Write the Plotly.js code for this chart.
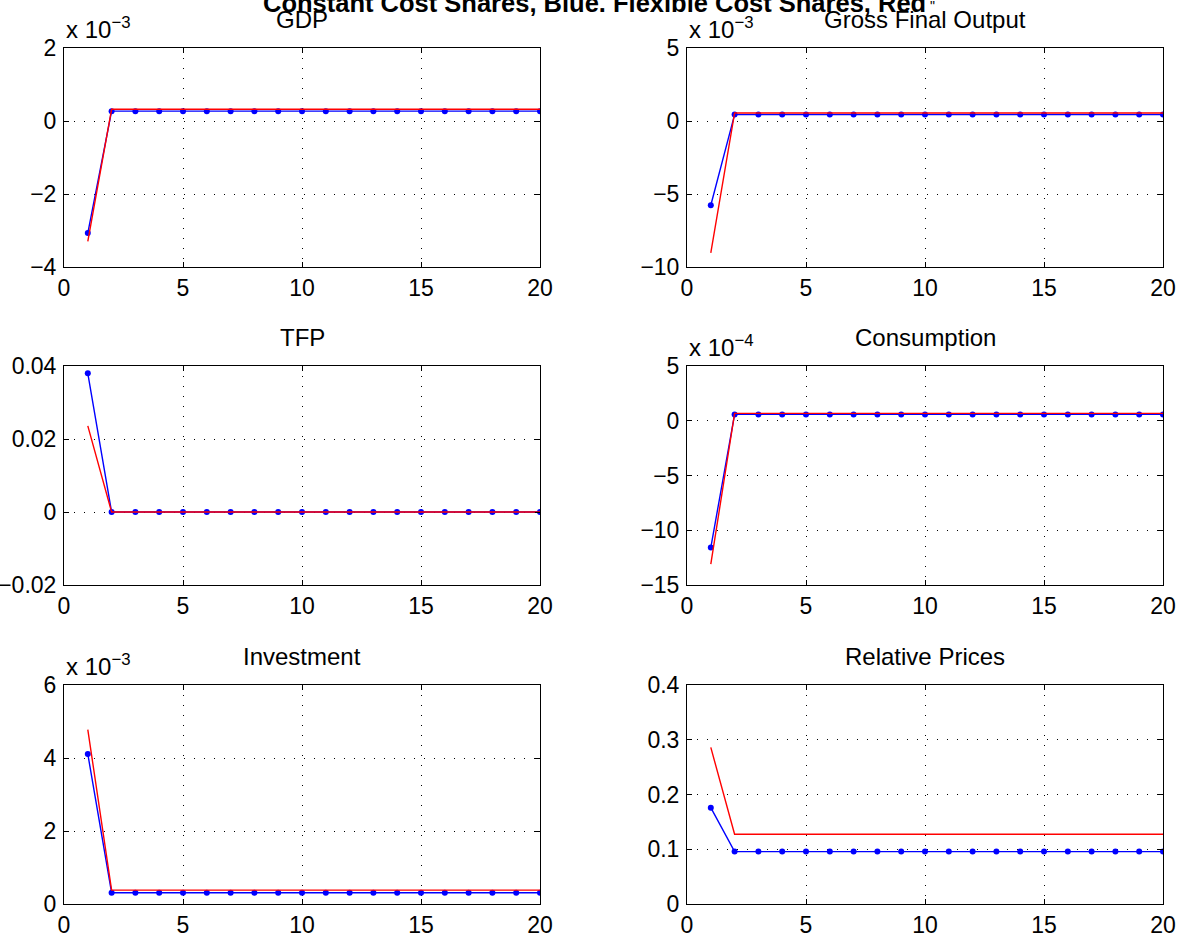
<!DOCTYPE html>
<html>
<head>
<meta charset="utf-8">
<script src="https://cdn.plot.ly/plotly-3.0.1.min.js"></script>
<style>html,body{margin:0;padding:0;background:#fff;}#chart{width:1183px;height:941px;}</style>
</head>
<body>
<div id="chart"></div>
<script>
// periods
const periods = [1,2,3,4,5,6,7,8,9,10,11,12,13,14,15,16,17,18,19,20];

// Blue: constant cost shares ; Red: flexible cost shares
const gdpBlue  = [-3.07e-3,0.27e-3,0.27e-3,0.27e-3,0.27e-3,0.27e-3,0.27e-3,0.27e-3,0.27e-3,0.27e-3,0.27e-3,0.27e-3,0.27e-3,0.27e-3,0.27e-3,0.27e-3,0.27e-3,0.27e-3,0.27e-3,0.27e-3];
const gdpRed   = [-3.30e-3,0.32e-3,0.32e-3,0.32e-3,0.32e-3,0.32e-3,0.32e-3,0.32e-3,0.32e-3,0.32e-3,0.32e-3,0.32e-3,0.32e-3,0.32e-3,0.32e-3,0.32e-3,0.32e-3,0.32e-3,0.32e-3,0.32e-3];

const gfoBlue  = [-5.77e-3,0.44e-3,0.44e-3,0.44e-3,0.44e-3,0.44e-3,0.44e-3,0.44e-3,0.44e-3,0.44e-3,0.44e-3,0.44e-3,0.44e-3,0.44e-3,0.44e-3,0.44e-3,0.44e-3,0.44e-3,0.44e-3,0.44e-3];
const gfoRed   = [-9.04e-3,0.55e-3,0.55e-3,0.55e-3,0.55e-3,0.55e-3,0.55e-3,0.55e-3,0.55e-3,0.55e-3,0.55e-3,0.55e-3,0.55e-3,0.55e-3,0.55e-3,0.55e-3,0.55e-3,0.55e-3,0.55e-3,0.55e-3];

const tfpBlue  = [0.038,0,0,0,0,0,0,0,0,0,0,0,0,0,0,0,0,0,0,0];
const tfpRed   = [0.0236,0,0,0,0,0,0,0,0,0,0,0,0,0,0,0,0,0,0,0];

const consBlue = [-11.58e-4,0.58e-4,0.58e-4,0.58e-4,0.58e-4,0.58e-4,0.58e-4,0.58e-4,0.58e-4,0.58e-4,0.58e-4,0.58e-4,0.58e-4,0.58e-4,0.58e-4,0.58e-4,0.58e-4,0.58e-4,0.58e-4,0.58e-4];
const consRed  = [-13.1e-4,0.67e-4,0.67e-4,0.67e-4,0.67e-4,0.67e-4,0.67e-4,0.67e-4,0.67e-4,0.67e-4,0.67e-4,0.67e-4,0.67e-4,0.67e-4,0.67e-4,0.67e-4,0.67e-4,0.67e-4,0.67e-4,0.67e-4];

const invBlue  = [4.11e-3,0.31e-3,0.31e-3,0.31e-3,0.31e-3,0.31e-3,0.31e-3,0.31e-3,0.31e-3,0.31e-3,0.31e-3,0.31e-3,0.31e-3,0.31e-3,0.31e-3,0.31e-3,0.31e-3,0.31e-3,0.31e-3,0.31e-3];
const invRed   = [4.78e-3,0.38e-3,0.38e-3,0.38e-3,0.38e-3,0.38e-3,0.38e-3,0.38e-3,0.38e-3,0.38e-3,0.38e-3,0.38e-3,0.38e-3,0.38e-3,0.38e-3,0.38e-3,0.38e-3,0.38e-3,0.38e-3,0.38e-3];

const rpBlue   = [0.176,0.0957,0.0957,0.0957,0.0957,0.0957,0.0957,0.0957,0.0957,0.0957,0.0957,0.0957,0.0957,0.0957,0.0957,0.0957,0.0957,0.0957,0.0957,0.0957];
const rpRed    = [0.286,0.1274,0.1274,0.1274,0.1274,0.1274,0.1274,0.1274,0.1274,0.1274,0.1274,0.1274,0.1274,0.1274,0.1274,0.1274,0.1274,0.1274,0.1274,0.1274];

const panelTitles = ["GDP","Gross Final Output","TFP","Consumption","Investment","Relative Prices"];
const panelExponents = ["x 10<sup>−3</sup>","x 10<sup>−3</sup>","","x 10<sup>−4</sup>","x 10<sup>−3</sup>",""];

const xTickVals = [0,5,10,15,20];
const xTickText = ["0","5","10","15","20"];

const yTickVals = [
  [-0.004,-0.002,0,0.002],
  [-0.010,-0.005,0,0.005],
  [-0.02,0,0.02,0.04],
  [-0.0015,-0.0010,-0.0005,0,0.0005],
  [0,0.002,0.004,0.006],
  [0,0.1,0.2,0.3,0.4]
];
const yTickText = [
  ["−4","−2","0","2"],
  ["−10","−5","0","5"],
  ["−0.02","0","0.02","0.04"],
  ["−15","−10","−5","0","5"],
  ["0","2","4","6"],
  ["0","0.1","0.2","0.3","0.4"]
];
const yRanges = [[-0.004,0.002],[-0.010,0.005],[-0.02,0.04],[-0.0015,0.0005],[0,0.006],[0,0.4]];

const blueSeries = [gdpBlue,gfoBlue,tfpBlue,consBlue,invBlue,rpBlue];
const redSeries  = [gdpRed,gfoRed,tfpRed,consRed,invRed,rpRed];

const W = 1183, H = 941;
const colX = [[64,540],[687,1163]];
const rowY = [[48,267],[366,585],[685,904]];

const FONT = "'Liberation Sans', Arial, Helvetica, sans-serif";
const FS = 23;
const TFS = 24;
const MAINFS = 25.5;

const data = [];
const layout = {
  width: W, height: H,
  margin: {l:0, r:0, t:0, b:0, pad:0},
  paper_bgcolor: "#ffffff",
  plot_bgcolor: "#ffffff",
  showlegend: false,
  font: {family: FONT, size: FS, color: "#000"},
  annotations: []
};

for (let i = 0; i < 6; i++) {
  const n = i + 1;
  const xa = "x" + (n === 1 ? "" : n), ya = "y" + (n === 1 ? "" : n);
  const col = i % 2, row = Math.floor(i / 2);
  data.push({
    x: periods, y: blueSeries[i], xaxis: xa, yaxis: ya,
    type: "scatter", mode: "lines+markers",
    line: {color: "#0000ff", width: 1.4},
    marker: {color: "#0000ff", size: 6},
    hoverinfo: "skip"
  });
  data.push({
    x: periods, y: redSeries[i], xaxis: xa, yaxis: ya,
    type: "scatter", mode: "lines",
    line: {color: "#ff0000", width: 1.4},
    hoverinfo: "skip"
  });
  const common = {
    showline: true, mirror: "ticks", linecolor: "#000", linewidth: 1,
    ticks: "inside", ticklen: 5, tickcolor: "#000", tickwidth: 1,
    showgrid: true, gridcolor: "#000", gridwidth: 1, griddash: "1px,9px",
    zeroline: false, fixedrange: true,
    tickfont: {family: FONT, size: FS, color: "#000"}
  };
  layout["xaxis" + (n === 1 ? "" : n)] = Object.assign({}, common, {
    domain: [colX[col][0] / W, colX[col][1] / W],
    anchor: ya, range: [0, 20],
    tickmode: "array", tickvals: xTickVals, ticktext: xTickText
  });
  layout["yaxis" + (n === 1 ? "" : n)] = Object.assign({}, common, {
    domain: [1 - rowY[row][1] / H, 1 - rowY[row][0] / H],
    anchor: xa, range: yRanges[i],
    tickmode: "array", tickvals: yTickVals[i], ticktext: yTickText[i],
    ticklabelstandoff: 2
  });
  layout.annotations.push({
    xref: xa + " domain", yref: ya + " domain", x: 0.5, y: 1,
    xanchor: "center", yanchor: "bottom", yshift: 13,
    text: panelTitles[i], showarrow: false,
    font: {family: FONT, size: TFS, color: "#000"}
  });
  if (panelExponents[i]) {
    layout.annotations.push({
      xref: xa + " domain", yref: ya + " domain", x: 0, y: 1,
      xanchor: "left", yanchor: "bottom", yshift: 3,
      text: panelExponents[i], showarrow: false,
      font: {family: FONT, size: TFS, color: "#000"}
    });
  }
}

layout.annotations.push({
  xref: "paper", yref: "paper", x: 594 / W, y: 1 - 3 / H,
  xanchor: "center", yanchor: "middle",
  text: "<b>Constant Cost Shares, Blue. Flexible Cost Shares, Red</b>",
  showarrow: false,
  font: {family: FONT, size: MAINFS, color: "#000"}
});
layout.annotations.push({
  xref: "paper", yref: "paper", x: 928 / W, y: 1 - 6 / H,
  xanchor: "left", yanchor: "middle",
  text: "\"",
  showarrow: false,
  font: {family: FONT, size: 14, color: "#000"}
});

Plotly.newPlot("chart", data, layout, {staticPlot: true, displayModeBar: false});
</script>
</body>
</html>
